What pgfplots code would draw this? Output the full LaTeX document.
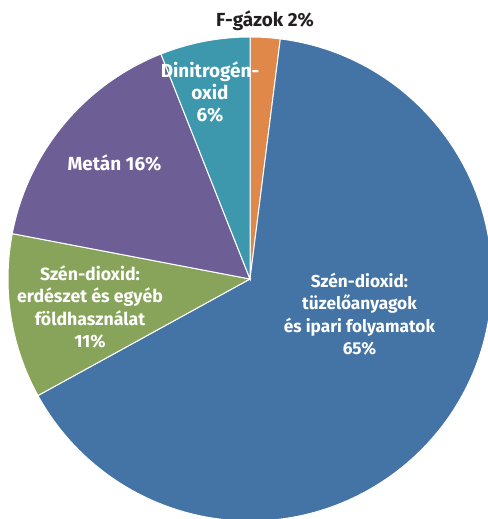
\documentclass[border=0pt]{standalone}
\usepackage{pgfplots}
\pgfplotsset{compat=1.18}
\usepackage{pgfplotstable}
\usepackage{fontspec}
\setmainfont{Fira Sans}
\definecolor{cF}{HTML}{E0874A}
\definecolor{cB}{HTML}{4474A5}
\definecolor{cG}{HTML}{87A45A}
\definecolor{cP}{HTML}{6D5E95}
\definecolor{cT}{HTML}{3D98AE}
\definecolor{cTxt}{HTML}{231F20}
\pgfplotstableread{
name share
F 2
CO2fossil 65
CO2land 11
CH4 16
N2O 6
}\shares
\begin{document}
\begin{tikzpicture}
\pgfplotstablegetelem{0}{share}\of\shares \let\vA\pgfplotsretval
\pgfplotstablegetelem{1}{share}\of\shares \let\vB\pgfplotsretval
\pgfplotstablegetelem{2}{share}\of\shares \let\vC\pgfplotsretval
\pgfplotstablegetelem{3}{share}\of\shares \let\vD\pgfplotsretval
\pgfplotstablegetelem{4}{share}\of\shares \let\vE\pgfplotsretval
\pgfmathsetmacro{\aA}{90-3.6*\vA}
\pgfmathsetmacro{\aB}{\aA-3.6*\vB}
\pgfmathsetmacro{\aC}{\aB-3.6*\vC}
\pgfmathsetmacro{\aD}{\aC-3.6*\vD}
\pgfmathsetmacro{\aE}{\aD-3.6*\vE}
\begin{axis}[hide axis, x=1bp, y=1bp, xmin=0, xmax=488, ymin=0, ymax=519, clip=true]
\path (axis cs:0,0) rectangle (axis cs:488,519);
\begin{scope}
\clip (axis cs:0,0) rectangle (axis cs:488,519);
\filldraw[fill=cF, draw=white, line width=1bp] (axis cs:250,240) -- ++(90:242bp) arc[start angle=90, end angle=\aA, radius=242bp] -- cycle;
\filldraw[fill=cB, draw=white, line width=1bp] (axis cs:250,240) -- ++(\aA:242bp) arc[start angle=\aA, end angle=\aB, radius=242bp] -- cycle;
\filldraw[fill=cG, draw=white, line width=1bp] (axis cs:250,240) -- ++(\aB:242bp) arc[start angle=\aB, end angle=\aC, radius=242bp] -- cycle;
\filldraw[fill=cP, draw=white, line width=1bp] (axis cs:250,240) -- ++(\aC:242bp) arc[start angle=\aC, end angle=\aD, radius=242bp] -- cycle;
\filldraw[fill=cT, draw=white, line width=1bp] (axis cs:250,240) -- ++(\aD:242bp) arc[start angle=\aD, end angle=\aE, radius=242bp] -- cycle;
\end{scope}
\tikzset{lab/.style={align=center, text=white, inner sep=0pt}}
\node[lab, text=cTxt, font=\fontsize{19}{22.5}\selectfont\bfseries] at (axis cs:265,498) {F-gázok 2\%};
\node[lab, font=\fontsize{19}{22.5}\selectfont\bfseries] at (axis cs:210,427) {Dinitrogén-\\oxid\\6\%};
\node[lab, font=\fontsize{19}{22.5}\selectfont\bfseries] at (axis cs:114.5,356) {Metán 16\%};
\node[lab, font=\fontsize{17.8}{22.7}\selectfont\bfseries] at (axis cs:90,212) {Szén-dioxid:\\erdészet és egyéb\\földhasználat\\11\%};
\node[lab, font=\fontsize{17.3}{22.5}\selectfont\bfseries] at (axis cs:359.5,205) {Szén-dioxid:\\tüzelőanyagok\\és ipari folyamatok\\65\%};
\end{axis}
\end{tikzpicture}
\end{document}
